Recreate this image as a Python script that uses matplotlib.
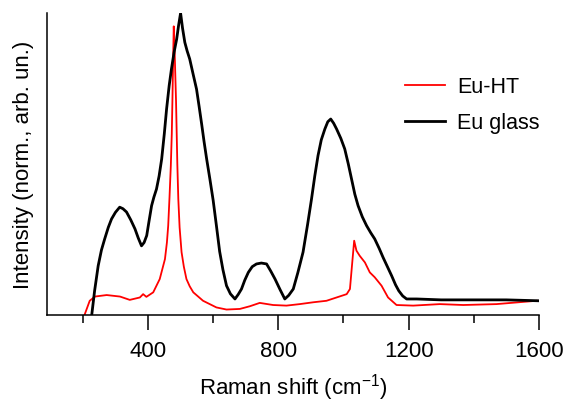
import numpy as np
import matplotlib.pyplot as plt
from matplotlib.ticker import MultipleLocator

plt.rcParams['font.family'] = ['Liberation Sans', 'DejaVu Sans']
plt.rcParams['mathtext.default'] = 'regular'

# Eu glass (black)
glass_shift = [225, 236, 247, 257, 267, 278, 288, 300, 313, 323, 334, 347, 360, 370, 380,
               388, 396, 403, 411, 418, 426, 434, 442, 450, 457, 465, 472, 480, 488, 494,
               500, 506, 513, 520, 528, 538, 549, 557, 565, 572, 580, 590, 600, 610, 620,
               630, 641, 653, 667, 677, 687, 697, 708, 720, 733, 748, 764, 777, 790, 805,
               820, 832, 846, 860, 876, 890, 902, 912, 922, 932, 943, 952, 961, 970, 979,
               992, 1004, 1015, 1025, 1035, 1045, 1058, 1071, 1084, 1096, 1110, 1122,
               1135, 1148, 1160, 1170, 1182, 1194, 1225, 1300, 1400, 1500, 1600]
glass_int = [-0.02, 0.08, 0.163, 0.215, 0.252, 0.29, 0.318, 0.34, 0.357, 0.352, 0.341,
             0.315, 0.285, 0.255, 0.229, 0.24, 0.263, 0.31, 0.362, 0.39, 0.417, 0.46,
             0.517, 0.6, 0.682, 0.76, 0.815, 0.87, 0.914, 0.96, 1.0, 0.95, 0.903, 0.875,
             0.848, 0.8, 0.748, 0.69, 0.63, 0.575, 0.517, 0.45, 0.38, 0.296, 0.21, 0.15,
             0.097, 0.07, 0.053, 0.068, 0.086, 0.115, 0.141, 0.16, 0.169, 0.172, 0.169,
             0.145, 0.119, 0.085, 0.053, 0.065, 0.086, 0.14, 0.208, 0.3, 0.384, 0.46,
             0.528, 0.58, 0.616, 0.64, 0.649, 0.635, 0.616, 0.585, 0.55, 0.5, 0.45, 0.4,
             0.362, 0.325, 0.296, 0.272, 0.252, 0.22, 0.19, 0.16, 0.13, 0.1, 0.08, 0.063,
             0.053, 0.053, 0.05, 0.05, 0.05, 0.047]

# Eu-HT (red)
ht_shift = [205, 221, 237, 273, 314, 344, 375, 385, 395, 416, 436, 452, 458, 462, 466,
            470, 473, 475, 477, 479, 481, 483, 486, 488, 490, 493, 497, 503, 510, 518,
            528, 539, 569, 610, 641, 682, 713, 743, 784, 825, 866, 907, 948, 979, 1010,
            1020, 1028, 1033, 1040, 1050, 1066, 1081, 1096, 1117, 1137, 1163, 1214,
            1296, 1368, 1470, 1593]
ht_int = [0.0, 0.047, 0.061, 0.066, 0.061, 0.05, 0.058, 0.069, 0.06, 0.075, 0.119, 0.185,
          0.24, 0.296, 0.39, 0.494, 0.6, 0.715, 0.84, 0.956, 0.9, 0.825, 0.71, 0.605,
          0.5, 0.384, 0.29, 0.208, 0.16, 0.119, 0.095, 0.075, 0.047, 0.025, 0.018, 0.02,
          0.029, 0.04, 0.033, 0.031, 0.036, 0.042, 0.047, 0.058, 0.069, 0.086, 0.185,
          0.246, 0.213, 0.196, 0.174, 0.141, 0.125, 0.097, 0.058, 0.033, 0.031, 0.036,
          0.033, 0.036, 0.047]

fig = plt.figure(figsize=(5.65, 4.02), dpi=100)
ax = fig.add_axes([0.0827, 0.214, 0.871, 0.751])

ax.plot(ht_shift, ht_int, color='#ff0000', lw=1.3, label='Eu-HT')
ax.plot(glass_shift, glass_int, color='black', lw=2.0, label='Eu glass')

ax.set_xlim(89, 1600)
ax.set_ylim(0, 1.0)
ax.xaxis.set_major_locator(MultipleLocator(400))
ax.xaxis.set_minor_locator(MultipleLocator(200))
ax.set_yticks([])
for s in ['top', 'right']:
    ax.spines[s].set_visible(False)
for s in ['left', 'bottom']:
    ax.spines[s].set_linewidth(1.1)
ax.tick_params(axis='x', which='major', length=11, width=1.1, pad=7, labelsize=16)
ax.tick_params(axis='x', which='minor', length=5.5, width=1.1)

ax.set_xlabel('Raman shift (cm$^{-1}$)', fontsize=16, labelpad=7)
ax.set_ylabel('Intensity (norm., arb. un.)', fontsize=16, labelpad=9)

ax.legend(loc='upper left', bbox_to_anchor=(0.717, 0.808), bbox_transform=fig.transFigure,
          frameon=False, fontsize=15.5, handlelength=1.85, handletextpad=0.55,
          labelspacing=0.7, borderpad=0, borderaxespad=0)

fig.savefig('out.png', dpi=100)
